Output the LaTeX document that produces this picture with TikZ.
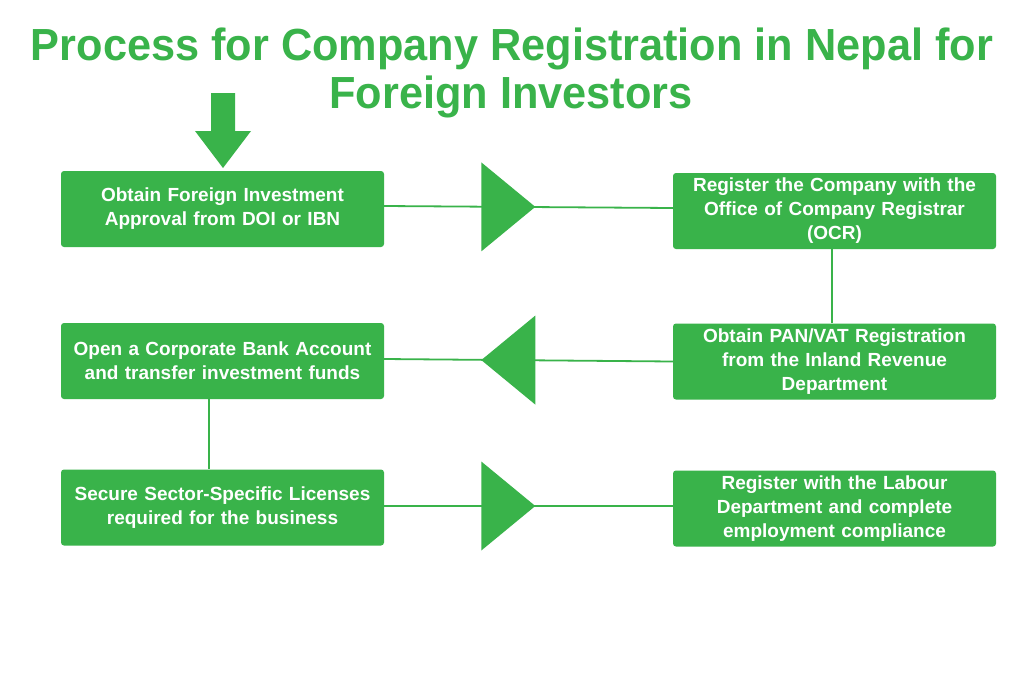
\documentclass[tikz,border=0pt]{standalone}
\usepackage{fontspec}
\setmainfont{Liberation Sans}
\usetikzlibrary{calc}
\definecolor{brandgreen}{RGB}{57,179,74}
\tikzset{
  stepbox/.style={fill=brandgreen, rounded corners=3pt, minimum width=323pt, minimum height=76pt,
    text width=318pt, align=center, text=white, font=\bfseries\fontsize{19}{24}\selectfont, inner sep=0pt},
  link/.style={draw=brandgreen, line width=1.8pt},
  tri/.style={fill=brandgreen},
  titletext/.style={text=brandgreen, font=\bfseries\fontsize{45}{48}\selectfont, inner sep=0pt, anchor=base}
}
\begin{document}
\begin{tikzpicture}[x=1pt,y=-1pt]
\useasboundingbox[fill=white] (0,0) rectangle (1024,683);
\node[titletext] (title1) at (512,60) {\scalebox{0.962}[1]{Process for Company Registration in Nepal for}};
\node[titletext] (title2) at (511,108) {\scalebox{0.962}[1]{Foreign Investors}};
% top arrow
\fill[brandgreen] (211,93) -- (235,93) -- (235,131) -- (251,131) -- (223,168) -- (195,131) -- (211,131) -- cycle;
\node[stepbox] (b1) at (222.5,209) {Obtain Foreign Investment\\Approval from DOI or IBN};
\node[stepbox] (b2) at (834.5,211) {Register the Company with the\\Office of Company Registrar\\(OCR)};
\node[stepbox] (b3) at (834.5,361.5) {Obtain PAN/VAT Registration\\from the Inland Revenue\\Department};
\node[stepbox] (b4) at (222.5,361) {Open a Corporate Bank Account\\and transfer investment funds};
\node[stepbox] (b5) at (222.5,507.5) {Secure Sector-Specific Licenses\\required for the business};
\node[stepbox] (b6) at (834.5,508.5) {Register with the Labour\\Department and complete\\employment compliance};
% connectors
\draw[link] ([yshift=3pt]b1.east) -- coordinate[pos=0.43] (m1) ([yshift=3pt]b2.west);
\fill[tri] (m1) ++(-27,-44.5) -- ++(54,44.5) -- ++(-54,44.5) -- cycle;
\draw[link] (b3.west) -- coordinate[pos=0.57] (m2) ([yshift=2pt]b4.east);
\fill[tri] (m2) ++(27,-44.5) -- ++(-54,44.5) -- ++(54,44.5) -- cycle;
\draw[link] ([yshift=1.5pt]b5.east) -- coordinate[pos=0.43] (m3) ([yshift=2.5pt]b6.west);
\fill[tri] (m3) ++(-27,-44.5) -- ++(54,44.5) -- ++(-54,44.5) -- cycle;
\draw[link] (b2.south -| 832,0) -- (b3.north -| 832,0);
\draw[link] (b4.south -| 209,0) -- (b5.north -| 209,0);
\end{tikzpicture}
\end{document}
